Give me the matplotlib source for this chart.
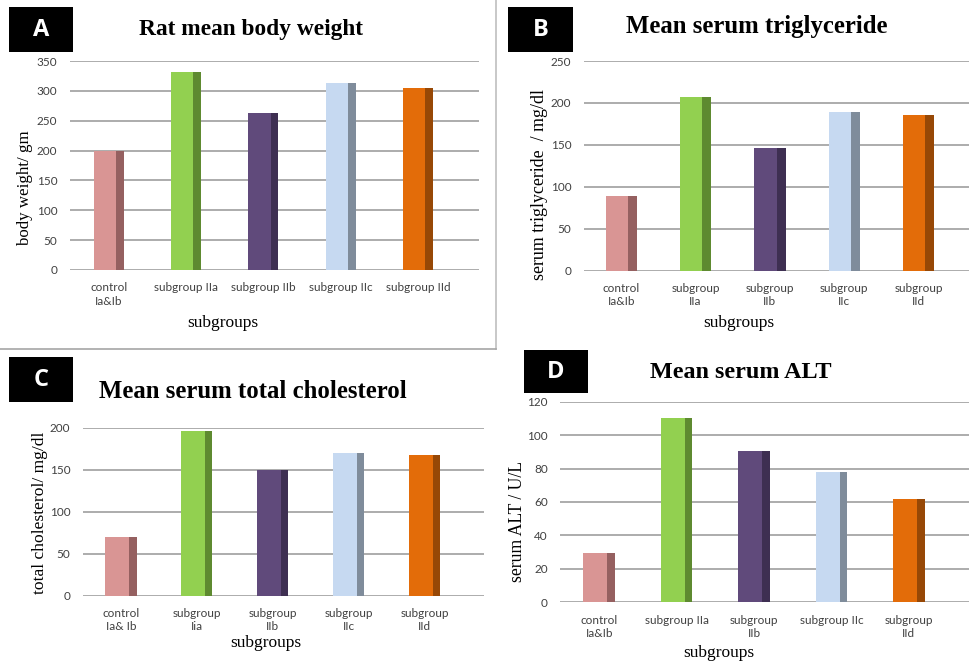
import matplotlib
matplotlib.use("Agg")
import matplotlib.pyplot as plt
from matplotlib.patches import Rectangle
from matplotlib.lines import Line2D
import numpy as np

W, H = 970, 664

# ---------------- data ----------------
categories_A = ["control\nIa&Ib", "subgroup IIa", "subgroup IIb", "subgroup IIc", "subgroup IId"]
body_weight = [199, 332, 263, 313, 305]

categories_B = ["control\nIa&Ib", "subgroup\nIIa", "subgroup\nIIb", "subgroup\nIIc", "subgroup\nIId"]
triglyceride = [89, 207, 146, 189, 186]

categories_C = ["control\nIa& Ib", "subgroup\nIia", "subgroup\nIIb", "subgroup\nIIc", "subgroup\nIId"]
cholesterol = [70, 196, 150, 170, 167]

categories_D = ["control\nIa&Ib", "subgroup IIa", "subgroup\nIIb", "subgroup IIc", "subgroup\nIId"]
alt = [29.5, 110, 90.5, 78, 61.5]

front_colors = ["#D99594", "#92D050", "#604A7B", "#C6D9F1", "#E36C09"]
side_colors = ["#956060", "#5E8A30", "#3E2F52", "#7F8C9B", "#974806"]

fig = plt.figure(figsize=(W / 100, H / 100), dpi=100)
fig.patch.set_facecolor("white")


def px_axes(x0, y_top, x1, y_bot):
    return fig.add_axes([x0 / W, 1 - y_bot / H, (x1 - x0) / W, (y_bot - y_top) / H])


def fx(x):
    return x / W


def fy(y):
    return 1 - y / H


tick_font = "Lato"
serif = "Liberation Serif"


def panel(rect, cats, vals, ymax, ystep, xright, front_w, side_w, title, title_xy, title_fs,
          ylabel, ylabel_xy, ylabel_fs, xlabel_xy, letter, box):
    ax = px_axes(*rect)
    x = np.arange(len(cats))
    total = front_w + side_w
    ax.bar(x - total / 2, vals, width=front_w, align="edge", color=front_colors,
           edgecolor="none", zorder=3)
    ax.bar(x - total / 2 + front_w, vals, width=side_w, align="edge", color=side_colors,
           edgecolor="none", zorder=3)
    ax.set_xlim(-0.5, xright)
    ax.set_ylim(0, ymax)
    ax.set_yticks(np.arange(0, ymax + 0.1, ystep))
    ax.yaxis.grid(True, color="#A6A6A6", linewidth=1.3, zorder=0)
    ax.set_axisbelow(True)
    for s in ax.spines.values():
        s.set_visible(False)
    ax.set_xticks(x)
    ax.set_xticklabels(cats, fontfamily=tick_font, fontsize=8.5, color="#404040",
                       linespacing=1.25)
    for lab in ax.get_yticklabels():
        lab.set_fontfamily(tick_font)
        lab.set_fontsize(8.5)
        lab.set_color("#404040")
    ax.tick_params(axis="both", length=0)
    ax.tick_params(axis="y", pad=9)
    ax.tick_params(axis="x", pad=9)
    ax.set_facecolor("none")
    # title
    fig.text(fx(title_xy[0]), fy(title_xy[1]), title, ha="center", va="center",
             fontfamily=serif, fontweight="bold", fontsize=title_fs, color="black")
    # ylabel
    fig.text(fx(ylabel_xy[0]), fy(ylabel_xy[1]), ylabel, ha="center", va="center",
             rotation=90, fontfamily=serif, fontsize=ylabel_fs, color="black")
    # xlabel
    fig.text(fx(xlabel_xy[0]), fy(xlabel_xy[1]), "subgroups", ha="center", va="center",
             fontfamily=serif, fontsize=12.5, color="black")
    # letter box
    bx0, by0, bx1, by1 = box
    fig.patches.append(Rectangle((fx(bx0), fy(by1)), (bx1 - bx0) / W, (by1 - by0) / H,
                                 transform=fig.transFigure, facecolor="black",
                                 edgecolor="none"))
    fig.text(fx((bx0 + bx1) / 2), fy((by0 + by1) / 2), letter, ha="center", va="center",
             fontfamily="Open Sans", fontweight="bold", fontsize=17, color="white")
    return ax


panel((70, 61, 479, 270), categories_A, body_weight, 350, 50, 4.79, 0.29, 0.10,
      "Rat mean body weight", (251, 29), 16.8, "body weight/ gm", (25, 188), 12.2,
      (223, 323), "A", (9, 7, 73, 52))

panel((584, 61, 970, 270.7), categories_B, triglyceride, 250, 50, 4.69, 0.30, 0.12,
      "Mean serum triglyceride", (757, 27), 17.8, "serum triglyceride  / mg/dl", (540, 184),
      12.9, (739, 323), "B", (508, 7, 573, 52))

panel((83, 427.7, 484, 595.7), categories_C, cholesterol, 200, 50, 4.78, 0.31, 0.10,
      "Mean serum total cholesterol", (253, 392), 17.8, "total cholesterol/ mg/dl", (40, 513),
      12.6, (266, 643), "C", (9, 357, 73, 402))

panel((560.5, 401.7, 970, 602.3), categories_D, alt, 120, 20, 4.79, 0.31, 0.10,
      "Mean serum ALT", (741, 372), 17.4, "serum ALT / U/L", (518, 522), 12.7,
      (719, 653), "D", (524, 350, 588, 393))

# panel border lines (top-left panel frame)
fig.add_artist(Line2D([fx(496), fx(496)], [fy(0), fy(349)], transform=fig.transFigure,
                      color="#BFBFBF", linewidth=1.2))
fig.add_artist(Line2D([fx(0), fx(496)], [fy(349), fy(349)], transform=fig.transFigure,
                      color="#A6A6A6", linewidth=1.2))

fig.savefig("out.png", dpi=100, facecolor="white")
